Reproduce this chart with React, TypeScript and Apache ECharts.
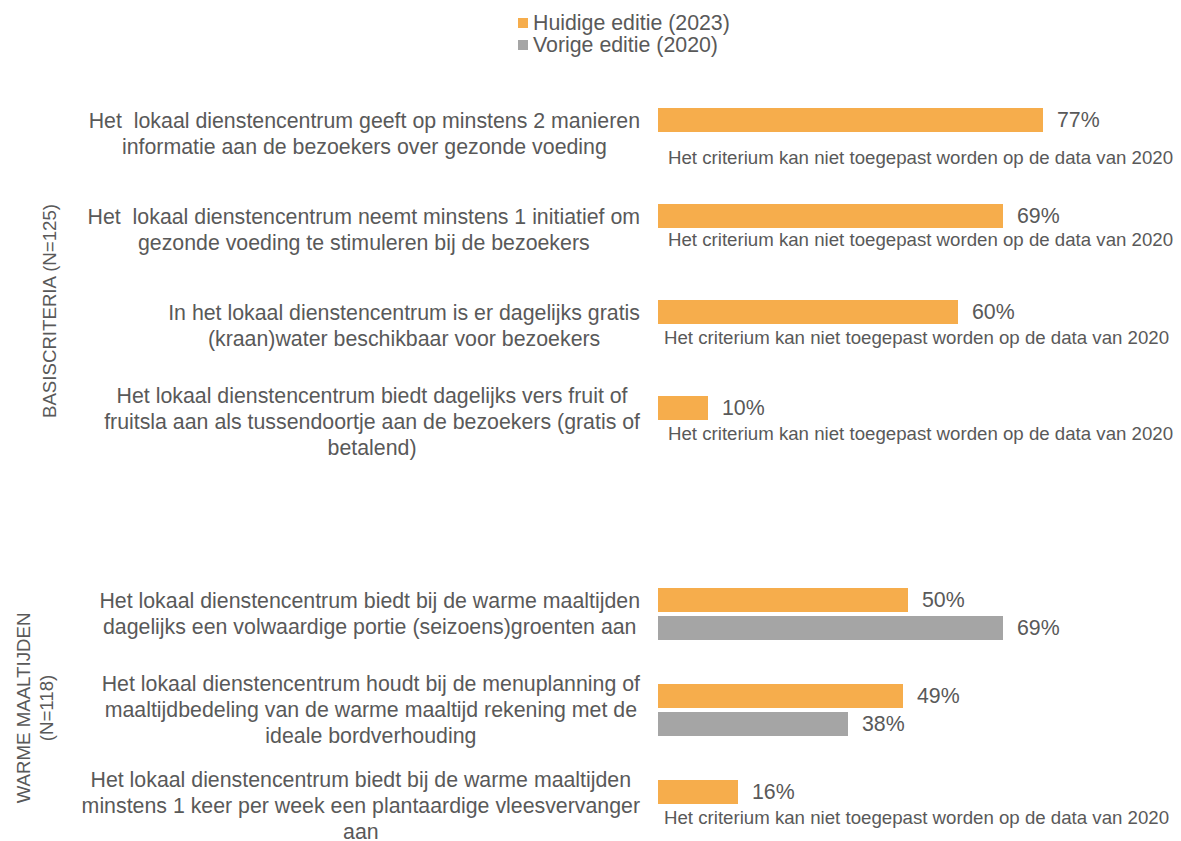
import React, { useEffect, useRef } from "react";
import * as echarts from "echarts";

const categories: string[] = [
  "Het  lokaal dienstencentrum geeft op minstens 2 manieren\ninformatie aan de bezoekers over gezonde voeding",
  "Het  lokaal dienstencentrum neemt minstens 1 initiatief om\ngezonde voeding te stimuleren bij de bezoekers",
  "In het lokaal dienstencentrum is er dagelijks gratis\n(kraan)water beschikbaar voor bezoekers",
  "Het lokaal dienstencentrum biedt dagelijks vers fruit of\nfruitsla aan als tussendoortje aan de bezoekers (gratis of\nbetalend)",
  "",
  "Het lokaal dienstencentrum biedt bij de warme maaltijden\ndagelijks een volwaardige portie (seizoens)groenten aan",
  "Het lokaal dienstencentrum houdt bij de menuplanning of\nmaaltijdbedeling van de warme maaltijd rekening met de\nideale bordverhouding",
  "Het lokaal dienstencentrum biedt bij de warme maaltijden\nminstens 1 keer per week een plantaardige vleesvervanger\naan",
];
const current2023: (number | null)[] = [77, 69, 60, 10, null, 50, 49, 16];
const previous2020: (number | null)[] = [null, null, null, null, null, 69, 38, null];
const notApplicable2020: boolean[] = [true, true, true, true, false, false, false, true];
const noteText = "Het criterium kan niet toegepast worden op de data van 2020";
const legendNames = ["Huidige editie (2023)", "Vorige editie (2020)"];
const groupLabels = ["BASISCRITERIA (N=125)", "WARME MAALTIJDEN\n(N=118)"];

// style constants
const FONT = "'Liberation Sans', Arial, Helvetica, sans-serif";
const TEXT = "#595959";
const ORANGE = "#F6AD4C";
const GRAY = "#A5A5A5";
const noteOffsets: [number, number][] = [
  [2, 9], [2, -5], [-2, -3], [2, -3], [0, 0], [0, 0], [0, 0], [-2, -3],
];

export default function App() {
  const ref = useRef<HTMLDivElement>(null);
  useEffect(() => {
    if (!ref.current) return;
    const chart = echarts.init(ref.current, undefined, { renderer: "svg" });

    const prevData = previous2020.map((v, i) => {
      if (notApplicable2020[i]) {
        return {
          value: 0,
          label: {
            show: true,
            position: "right",
            distance: 8,
            offset: noteOffsets[i],
            formatter: noteText,
            fontSize: 18.67,
          },
        };
      }
      return v;
    });

    chart.setOption({
      animation: false,
      textStyle: { fontFamily: FONT },
      legend: {
        orient: "vertical",
        left: 513,
        top: 7,
        itemWidth: 10,
        itemHeight: 10,
        itemGap: 0,
        icon: "rect",
        data: legendNames,
        textStyle: { fontSize: 21.33, color: TEXT, fontFamily: FONT, lineHeight: 22 },
      },
      grid: { left: 658, right: 23, top: 86, height: 768, containLabel: false },
      xAxis: { type: "value", min: 0, max: 100, show: false },
      yAxis: {
        type: "category",
        inverse: true,
        data: categories,
        axisLine: { show: false },
        axisTick: { show: false },
        splitLine: { show: false },
        axisLabel: {
          margin: 18,
          formatter: (v: string) =>
            v ? v.split("\n").map((l) => `{c|${l}}`).join("\n") : "",
          rich: {
            c: { align: "center", fontSize: 21.33, lineHeight: 26, color: TEXT, fontFamily: FONT },
          },
        },
      },
      series: [
        {
          name: legendNames[0],
          type: "bar",
          data: current2023,
          barWidth: 24,
          barGap: "16.7%",
          itemStyle: { color: ORANGE },
          label: {
            show: true,
            position: "right",
            distance: 14,
            formatter: (p: any) => `${p.value}%`,
            fontSize: 21.33,
            color: TEXT,
            fontFamily: FONT,
          },
        },
        {
          name: legendNames[1],
          type: "bar",
          data: prevData,
          barWidth: 24,
          itemStyle: { color: GRAY },
          label: {
            show: true,
            position: "right",
            distance: 14,
            formatter: (p: any) => `${p.value}%`,
            fontSize: 21.33,
            color: TEXT,
            fontFamily: FONT,
          },
        },
      ],
      graphic: [
        {
          type: "text",
          x: 49,
          y: 311,
          rotation: Math.PI / 2,
          style: {
            text: groupLabels[0],
            fill: TEXT,
            font: `18.67px ${FONT}`,
            textAlign: "center",
            textVerticalAlign: "middle",
          },
        },
        {
          type: "text",
          x: 35,
          y: 708,
          rotation: Math.PI / 2,
          style: {
            text: groupLabels[1],
            fill: TEXT,
            font: `18.67px ${FONT}`,
            lineHeight: 23,
            textAlign: "center",
            textVerticalAlign: "middle",
          },
        },
      ],
    });
    return () => chart.dispose();
  }, []);
  return (
    <div
      style={{
        position: "absolute",
        left: 0,
        top: 0,
        width: 1181,
        height: 841,
        overflow: "hidden",
      }}
    >
      <div ref={ref} style={{ width: 1181, height: 870 }} />
    </div>
  );
}
